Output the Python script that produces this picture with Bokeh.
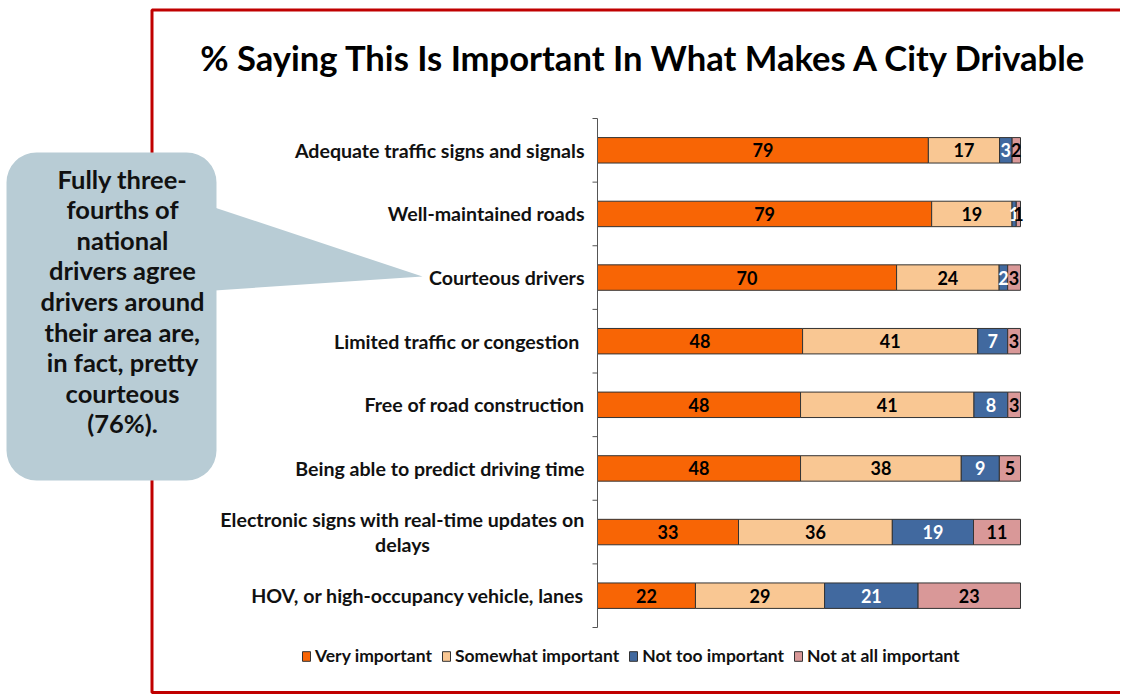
from bokeh.plotting import figure
from bokeh.models import (ColumnDataSource, Range1d, BoxAnnotation, Legend, LegendItem)
from bokeh.core.properties import value
from bokeh.embed import file_html
from bokeh.resources import INLINE

# ---------------- data ----------------
title_text = "% Saying This Is Important In What Makes A City Drivable"
categories = [
    "Adequate traffic signs and signals",
    "Well-maintained roads",
    "Courteous drivers",
    "Limited traffic or  congestion",
    "Free of road construction",
    "Being able to predict driving time",
    "Electronic signs with real-time updates on\ndelays",
    "HOV, or high-occupancy vehicle, lanes",
]
series_names = ["Very important", "Somewhat important", "Not too important", "Not at all important"]
very_important = [79, 79, 70, 48, 48, 48, 33, 22]
somewhat_important = [17, 19, 24, 41, 41, 38, 36, 29]
not_too_important = [3, 1, 2, 7, 8, 9, 19, 21]
not_at_all_important = [2, 1, 3, 3, 3, 5, 11, 23]
callout_lines = ["Fully three-", "fourths of", "national", "drivers agree", "drivers around",
                 "their area are,", "in fact, pretty", "courteous", "(76%)."]

# ---------------- styles / layout ----------------
colors = ["#F86505", "#F9C793", "#41699F", "#D99898"]
text_colors = ["#000000", "#000000", "#FFFFFF", "#000000"]
FONT = "Lato"
W, H = 1120, 695
PX0, PX100 = 597, 1020          # pixel x of 0 % and 100 %
TOP, BAND = 118, (627 - 118) / 8  # pixel y of first band top, band height
k = (PX100 - PX0) / 100
v_top = -0.5 - TOP / BAND
v_bot = v_top + H / BAND
LABEL_RIGHT = PX0 - 13
WRAPPED_CENTER = 402            # multi-line label: lines centred on this x

series = [very_important, somewhat_important, not_too_important, not_at_all_important]
keys = ["s0", "s1", "s2", "s3"]
ypos = list(range(len(categories)))

data = {"cat": categories, "y": ypos}
totals = [sum(col) for col in zip(*series)]
for key, s in zip(keys, series):
    data[key] = [v / t * 100 for v, t in zip(s, totals)]
source = ColumnDataSource(data)

lx, ly, lt, lc = [], [], [], []
for i in ypos:
    left = 0.0
    for j, s in enumerate(series):
        w = s[i] / totals[i] * 100
        lx.append(left + w / 2)
        ly.append(i)
        lt.append(str(s[i]))
        lc.append(text_colors[j])
        left += w
label_source = ColumnDataSource(dict(x=lx, y=ly, t=lt, c=lc))

cat_x = [WRAPPED_CENTER if "\n" in c else LABEL_RIGHT for c in categories]
cat_align = ["center" if "\n" in c else "right" for c in categories]
cat_source = ColumnDataSource(dict(x=cat_x, y=ypos, t=categories, a=cat_align))

p = figure(width=W, height=H, output_backend="svg", toolbar_location=None, title=None,
           x_range=Range1d(-PX0 / k, (W - PX0) / k), y_range=Range1d(v_bot, v_top),
           x_axis_location=None, y_axis_location=None, min_border=0)
p.extra_x_ranges = {"px": Range1d(0, W)}
p.extra_y_ranges = {"px": Range1d(H, 0)}
p.outline_line_color = None
p.grid.visible = False
p.background_fill_color = "white"
p.border_fill_color = "white"

# red frame and callout box (underlay, below texts)
p.add_layout(BoxAnnotation(left=151.5, right=W + 20, top=9.5, bottom=692,
                           x_range_name="px", y_range_name="px", level="underlay",
                           fill_color=None, fill_alpha=0, line_color="#C00000",
                           line_alpha=1, line_width=3))
callout_fill = "#B8CCD5"
p.add_layout(BoxAnnotation(left=6, right=216, top=152, bottom=480,
                           x_range_name="px", y_range_name="px", level="underlay",
                           fill_color=callout_fill, fill_alpha=1, line_color=None,
                           border_radius=30))
p.patch(x=[214, 422, 214], y=[207, 276, 290], x_range_name="px", y_range_name="px",
        fill_color=callout_fill, line_color=None)

# bars
renderers = p.hbar_stack(keys, y="y", height=0.4, source=source, color=colors,
                         line_color="#333333", line_width=1)

p.text(x="x", y="y", text="t", text_color="c", source=label_source,
       text_align="center", text_baseline="middle", text_font=value(FONT),
       text_font_style="bold", text_font_size="18px")

# category axis: line, boundary ticks and labels
bounds = [i - 0.5 for i in range(len(categories) + 1)]
p.segment(x0=PX0, x1=PX0, y0=bounds[0], y1=bounds[-1], x_range_name="px",
          line_color="#555555", line_width=1)
p.segment(x0=[PX0 - 5] * len(bounds), x1=[PX0] * len(bounds), y0=bounds, y1=bounds,
          x_range_name="px", line_color="#555555", line_width=1)
p.text(x="x", y="y", text="t", text_align="a", source=cat_source, x_range_name="px",
       text_baseline="middle", text_font=value(FONT),
       text_font_style="bold", text_font_size="19.6px", text_color="#111111",
       text_line_height=1.12)

# callout text
p.text(x=[122] * len(callout_lines), y=[178 + 30.6 * i for i in range(len(callout_lines))],
       text=callout_lines, x_range_name="px", y_range_name="px",
       text_align="center", text_baseline="middle", text_font=value(FONT),
       text_font_style="bold", text_font_size="25.5px", text_color="#111111")

# title
p.text(x=[644], y=[57], text=[title_text], x_range_name="px", y_range_name="px",
       text_align="center", text_baseline="middle", text_font=value(FONT),
       text_font_style="bold", text_font_size="34.6px", text_color="#000000")

legend = Legend(items=[LegendItem(label=n, renderers=[r]) for n, r in zip(series_names, renderers)],
                orientation="horizontal", location=(301, H - 666),
                glyph_width=10, glyph_height=12, label_height=20, label_standoff=4, spacing=9,
                padding=0, margin=0, border_line_color=None, background_fill_alpha=0,
                label_text_font=FONT, label_text_font_style="bold", label_text_font_size="17.5px",
                label_text_color="#111111")
p.add_layout(legend)

open("out.html", "w").write(file_html(p, INLINE))
